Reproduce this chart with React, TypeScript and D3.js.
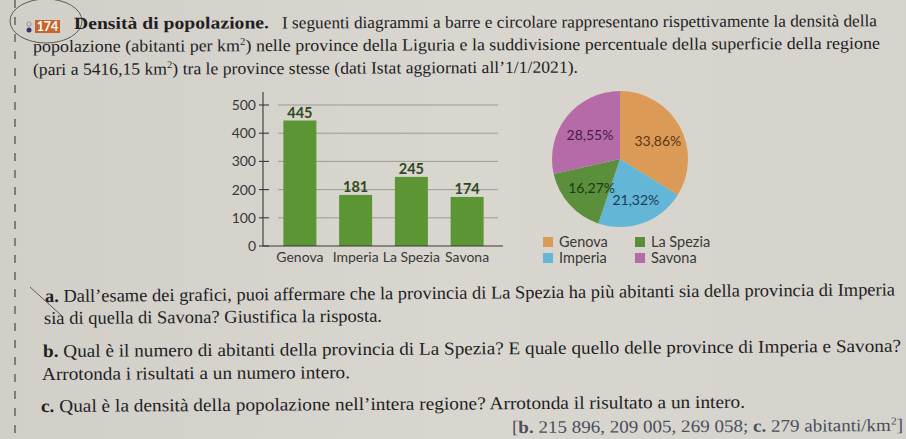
import React from 'react';
import * as d3 from 'd3';

const provinces = ['Genova', 'Imperia', 'La Spezia', 'Savona'];
const density = [445, 181, 245, 174];
const areaShare = [33.86, 21.32, 16.27, 28.55];
const yTicks = [0, 100, 200, 300, 400, 500];
const pieColors = ['#dc9a57', '#64b6d6', '#5b8f3b', '#b46ba7'];
const pieLabelColors = ['#5a3612', '#173c58', '#1d3a12', '#4b1a47'];
const legendOrder = [0, 2, 1, 3];

type Seg = { t: string; b?: boolean; sup?: boolean };
type Line = { x: number; y: number; w: number; rot: number; size: number; fill?: string; segs: Seg[] };

const textLines: Line[] = [
  { x: 74, y: 29, w: 195, rot: -0.2, size: 17, segs: [{ t: 'Densità di popolazione.', b: true }] },
  { x: 282, y: 28.4, w: 595, rot: -0.2, size: 17, segs: [{ t: 'I seguenti diagrammi a barre e circolare rappresentano rispettivamente la densità della' }] },
  { x: 33, y: 52, w: 847, rot: -0.22, size: 17, segs: [{ t: 'popolazione (abitanti per km' }, { t: '2', sup: true }, { t: ') nelle province della Liguria e la suddivisione percentuale della superficie della regione' }] },
  { x: 33, y: 75, w: 545, rot: -0.25, size: 17, segs: [{ t: '(pari a 5416,15 km' }, { t: '2', sup: true }, { t: ') tra le province stesse (dati Istat aggiornati all\u20191/1/2021).' }] },
  { x: 45, y: 302, w: 850, rot: -0.45, size: 18, segs: [{ t: 'a. ', b: true }, { t: 'Dall\u2019esame dei grafici, puoi affermare che la provincia di La Spezia ha più abitanti sia della provincia di Imperia' }] },
  { x: 44, y: 324, w: 338, rot: -0.4, size: 18, segs: [{ t: 'sia di quella di Savona? Giustifica la risposta.' }] },
  { x: 43, y: 357, w: 858, rot: -0.35, size: 18, segs: [{ t: 'b. ', b: true }, { t: 'Qual è il numero di abitanti della provincia di La Spezia? E quale quello delle province di Imperia e Savona?' }] },
  { x: 42, y: 380, w: 308, rot: -0.35, size: 18, segs: [{ t: 'Arrotonda i risultati a un numero intero.' }] },
  { x: 41, y: 412, w: 704, rot: -0.35, size: 18, segs: [{ t: 'c. ', b: true }, { t: 'Qual è la densità della popolazione nell\u2019intera regione? Arrotonda il risultato a un intero.' }] },
  { x: 512, y: 433, w: 391, rot: -0.3, size: 17.5, fill: '#4a4f5a', segs: [{ t: '[' }, { t: 'b.', b: true }, { t: ' 215 896, 209 005, 269 058; ' }, { t: 'c.', b: true }, { t: ' 279 abitanti/km' }, { t: '2', sup: true }, { t: ']' }] },
];

export default function App() {
  const W = 906, H = 439;
  // bar chart
  const x = d3.scalePoint<string>().domain(provinces).range([272, 495]).padding(0.5);
  const y = d3.scaleLinear().domain([0, 500]).range([246, 105]);
  const barW = 33;
  const axisX = 263;

  // pie
  const cx = 620, cy = 159, r = 68;
  const pie = d3.pie<number>().sort(null).value(d => d)(areaShare);
  const arc = d3.arc<d3.PieArcDatum<number>>().innerRadius(0).outerRadius(r);
  const labelArc = d3.arc<d3.PieArcDatum<number>>().innerRadius(41).outerRadius(41);
  const fmt = (v: number) => v.toFixed(2).replace('.', ',') + '%';

  const sans = 'Lato, "Open Sans", sans-serif';
  const serif = '"Liberation Serif", "DejaVu Serif", serif';

  return (
    <svg width={W} height={H} style={{ position: 'absolute', left: 0, top: 0 }}>
      <defs>
        <linearGradient id="paper" x1="0" x2="1" y1="0" y2="0">
          <stop offset="0" stopColor="#d2cfc9" />
          <stop offset="0.5" stopColor="#d9d6d0" />
          <stop offset="1" stopColor="#d6d3cd" />
        </linearGradient>
      </defs>
      <rect width={W} height={H} fill="url(#paper)" />
      {/* left dashed margin line */}
      <line x1={15} x2={15} y1={0} y2={H} stroke="#55524e" strokeWidth={1.3} strokeDasharray="8 9" />
      {/* pencil circle */}
      <ellipse cx={46} cy={21} rx={36} ry={22} fill="none" stroke="#5e5b57" strokeWidth={1} />
      <line x1={30} y1={287} x2={62} y2={316} stroke="#5e5b57" strokeWidth={1} />
      {/* badge */}
      <g>
        <circle cx={29} cy={24} r={2.2} fill="none" stroke="#8a8680" strokeWidth={0.8} />
        <circle cx={29} cy={30} r={2.5} fill="#3c2f6a" />
        <rect x={35} y={20} width={25} height={13} fill="#c8652e" />
        <text x={47.5} y={31} textAnchor="middle" fontFamily={sans} fontWeight={700} fontSize={12.5} fill="#fff">174</text>
      </g>

      {/* text lines */}
      {textLines.map((l, i) => (
        <text key={i} x={l.x} y={l.y} fontFamily={serif} fontSize={l.size} fill={l.fill || '#221e1e'}
          textLength={l.w} lengthAdjust="spacingAndGlyphs" transform={`rotate(${l.rot}, ${l.x}, ${l.y})`}>
          {l.segs.map((s, j) => {
            const prevSup = j > 0 && l.segs[j - 1].sup;
            const dy = s.sup ? -6.5 : prevSup ? 6.5 : 0;
            return (
              <tspan key={j} fontWeight={s.b ? 700 : 400} fontSize={s.sup ? l.size * 0.6 : undefined} dy={dy || undefined}>{s.t}</tspan>
            );
          })}
        </text>
      ))}

      {/* bar chart */}
      <g fontFamily={sans}>
        {yTicks.filter(t => t > 0).map(t => (
          <line key={'g' + t} x1={278} x2={498} y1={y(t)} y2={y(t)} stroke="#8e8c88" strokeWidth={0.8} />
        ))}
        {provinces.map((p, i) => (
          <rect key={p} x={(x(p) as number) - barW / 2} y={y(density[i])} width={barW} height={y(0) - y(density[i])} fill="#5c9533" />
        ))}
        {provinces.map((p, i) => (
          <text key={'v' + p} x={x(p) as number} y={y(density[i]) - 3} textAnchor="middle" fontWeight={700} fontSize={14.5} fill="#2f4a20">{density[i]}</text>
        ))}
        <line x1={axisX} x2={axisX} y1={92} y2={y(0)} stroke="#3a3836" strokeWidth={1.1} />
        <line x1={axisX} x2={503} y1={y(0)} y2={y(0)} stroke="#3a3836" strokeWidth={1.1} />
        {yTicks.map(t => (
          <g key={'t' + t}>
            <line x1={259} x2={269} y1={y(t)} y2={y(t)} stroke="#3a3836" strokeWidth={1.1} />
            <text x={256} y={y(t) + 5} textAnchor="end" fontSize={14} fill="#3a3836">{t}</text>
          </g>
        ))}
        {provinces.map(p => (
          <text key={'c' + p} x={x(p) as number} y={262} textAnchor="middle" fontSize={14} fill="#3a3836">{p}</text>
        ))}
      </g>

      {/* pie chart */}
      <g transform={`translate(${cx},${cy})`} fontFamily={sans}>
        {pie.map((d, i) => (
          <path key={i} d={arc(d) || ''} fill={pieColors[i]} />
        ))}
        {pie.map((d, i) => {
          const [lx, ly] = labelArc.centroid(d);
          return (
            <text key={'l' + i} x={lx + 2} y={ly + 7} textAnchor="middle" fontSize={14} fill={pieLabelColors[i]}>{fmt(areaShare[i])}</text>
          );
        })}
      </g>
      <g fontFamily={sans}>
        {legendOrder.map((idx, k) => {
          const col = k < 2 ? k : k - 2;
          const row = k < 2 ? 0 : 1;
          const lx = 543 + col * 92;
          const ly = 237 + row * 16;
          return (
            <g key={'lg' + idx}>
              <rect x={lx} y={ly} width={10} height={10} fill={pieColors[idx]} />
              <text x={lx + 16} y={ly + 10} fontSize={14.5} fill="#3a3836">{provinces[idx]}</text>
            </g>
          );
        })}
      </g>
    </svg>
  );
}
